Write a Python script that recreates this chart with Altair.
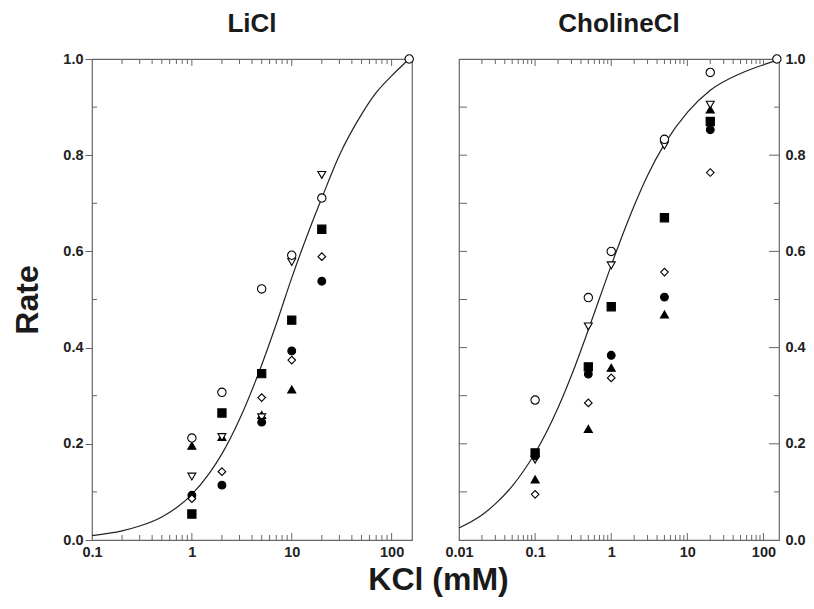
import altair as alt
import pandas as pd

FONT = "Liberation Sans"

# ---------------- data ----------------
series = ["open circle", "filled square", "filled triangle",
          "open triangle", "filled circle", "open diamond"]

licl_x = [1, 2, 5, 10, 20]
licl_open_circle = [0.212, 0.307, 0.522, 0.592, 0.711]
licl_filled_square = [0.054, 0.264, 0.346, 0.457, 0.646]
licl_filled_triangle = [0.196, 0.214, 0.260, 0.313, None]
licl_open_triangle = [0.132, 0.214, 0.255, 0.578, 0.759]
licl_filled_circle = [0.093, 0.114, 0.245, 0.393, 0.538]
licl_open_diamond = [0.086, 0.142, 0.296, 0.374, 0.589]

chol_x = [0.1, 0.5, 1, 5, 20]
chol_open_circle = [0.291, 0.504, 0.600, 0.833, 0.972]
chol_filled_square = [0.181, 0.360, 0.485, 0.670, 0.870]
chol_filled_triangle = [0.126, 0.231, 0.358, 0.469, 0.895]
chol_open_triangle = [0.167, 0.444, 0.571, 0.820, 0.905]
chol_filled_circle = [0.175, 0.345, 0.384, 0.505, 0.853]
chol_open_diamond = [0.095, 0.285, 0.337, 0.557, 0.764]

ref_x = [150]
ref_y = [1.0]

licl_curve_x = [0.1, 0.2, 0.3, 0.5, 0.7, 1, 1.5, 2, 3, 5, 7, 10, 15, 20, 30, 50, 70, 100, 150]
licl_curve_y = [0.009, 0.019, 0.029, 0.048, 0.067, 0.095, 0.139, 0.179, 0.251, 0.364,
                0.449, 0.545, 0.645, 0.711, 0.800, 0.885, 0.930, 0.965, 1.0]

chol_curve_x = [0.01, 0.02, 0.03, 0.05, 0.07, 0.1, 0.2, 0.3, 0.5, 0.7, 1, 2, 3, 5, 10, 20, 50, 100, 150]
chol_curve_y = [0.025, 0.052, 0.075, 0.112, 0.143, 0.181, 0.275, 0.342, 0.437, 0.502,
                0.571, 0.695, 0.758, 0.823, 0.889, 0.935, 0.970, 0.988, 0.997]

y_major = [0.0, 0.2, 0.4, 0.6, 0.8, 1.0]
y_minor = [0.1, 0.3, 0.5, 0.7, 0.9]
y_inner = [0.1, 0.2, 0.3, 0.4, 0.5, 0.6, 0.7, 0.8, 0.9]
y_inner_major = [0.2, 0.4, 0.6, 0.8]

licl_x_major = [1, 10, 100]
licl_x_minor = [0.2, 0.3, 0.4, 0.5, 0.6, 0.7, 0.8, 0.9,
                2, 3, 4, 5, 6, 7, 8, 9, 20, 30, 40, 50, 60, 70, 80, 90]
licl_x_labels = [0.1, 1, 10, 100]
chol_x_major = [0.1, 1, 10, 100]
chol_x_minor = [0.02, 0.03, 0.04, 0.05, 0.06, 0.07, 0.08, 0.09,
                0.2, 0.3, 0.4, 0.5, 0.6, 0.7, 0.8, 0.9,
                2, 3, 4, 5, 6, 7, 8, 9, 20, 30, 40, 50, 60, 70, 80, 90]
chol_x_labels = [0.01, 0.1, 1, 10, 100]

shapes = ["circle", "square", "triangle-up", "triangle-down", "circle", "diamond"]
fills = ["white", "black", "black", "white", "black", "white"]
sizes = [70, 58, 85, 85, 70, 125]

W, H = 320, 481


def points_frame(xs, cols):
    rows = []
    for name, vals in zip(series, cols):
        for x, v in zip(xs, vals):
            if v is not None:
                rows.append({"KCl": x, "Rate": v, "series": name})
    return rows


def panel(title, xs, cols, cx, cy, xdom, x_major, x_minor, x_labels, side):
    rows = points_frame(xs, cols)
    for x, v in zip(ref_x, ref_y):
        rows.append({"KCl": x, "Rate": v, "series": "open circle"})
    pts = pd.DataFrame(rows)
    curve = pd.DataFrame({"KCl": cx, "Rate": cy})

    xscale = alt.Scale(type="log", domain=xdom, nice=False)
    yscale = alt.Scale(domain=[0, 1], nice=False, zero=False)
    xaxis = alt.Axis(values=x_labels, format="~g", ticks=False, domain=False, grid=False,
                     labelPadding=5, title=None, labelFlush=False)
    if side == "left":
        yaxis = alt.Axis(values=y_major, format=".1f", orient="left", tickSize=7,
                         tickColor="#666", tickWidth=1, domain=False, grid=False,
                         labelPadding=2, title="Rate", titleFontSize=32,
                         titleFontWeight="bold", titlePadding=18, titleColor="#1a1a1a")
    else:
        yaxis = alt.Axis(values=y_major, format=".1f", orient="right", ticks=False,
                         domain=False, grid=False, labelPadding=6, title=None)

    X = alt.X("KCl:Q", scale=xscale, axis=xaxis)
    Y = alt.Y("Rate:Q", scale=yscale, axis=yaxis)

    line = alt.Chart(curve).mark_line(color="#222", strokeWidth=1.2,
                                      interpolate="monotone").encode(x=X, y=Y)

    dots = alt.Chart(pts).mark_point(filled=True, stroke="black", strokeWidth=1.1,
                                     opacity=1, clip=False).encode(
        x=X, y=Y,
        shape=alt.Shape("series:N", scale=alt.Scale(domain=series, range=shapes), legend=None),
        fill=alt.Fill("series:N", scale=alt.Scale(domain=series, range=fills), legend=None),
        size=alt.Size("series:N", scale=alt.Scale(domain=series, range=sizes), legend=None),
        order=alt.Order("order:Q"),
    ).transform_calculate(order="datum.series == 'open circle' ? 1 : 0")

    tick_color = "#666"
    xmaj = pd.DataFrame({"KCl": x_major})
    xmin = pd.DataFrame({"KCl": x_minor})
    layers = [line, dots]
    for df, ln in ((xmaj, 7), (xmin, 5)):
        layers.append(alt.Chart(df).mark_rule(color=tick_color, strokeWidth=1).encode(
            x=X, y=alt.value(H), y2=alt.value(H - ln)))
        layers.append(alt.Chart(df).mark_rule(color=tick_color, strokeWidth=1).encode(
            x=X, y=alt.value(0), y2=alt.value(ln)))

    if side == "left":
        ymin = pd.DataFrame({"Rate": y_minor})
        layers.append(alt.Chart(ymin).mark_rule(color=tick_color, strokeWidth=1).encode(
            y=Y, x=alt.value(0), x2=alt.value(5)))
    else:
        yin = pd.DataFrame({"Rate": y_inner})
        yinmaj = pd.DataFrame({"Rate": y_inner_major})
        ymin = pd.DataFrame({"Rate": y_minor})
        layers.append(alt.Chart(yin).mark_rule(color=tick_color, strokeWidth=1).encode(
            y=Y, x=alt.value(0), x2=alt.value(8)))
        layers.append(alt.Chart(yinmaj).mark_rule(color=tick_color, strokeWidth=1).encode(
            y=Y, x=alt.value(W), x2=alt.value(W - 10)))
        layers.append(alt.Chart(ymin).mark_rule(color=tick_color, strokeWidth=1).encode(
            y=Y, x=alt.value(W), x2=alt.value(W - 5)))

    return alt.layer(*layers).properties(
        width=W, height=H,
        title=alt.TitleParams(title, fontSize=26, fontWeight="bold", font=FONT,
                              color="#1a1a1a", offset=14, anchor="middle"),
    )


left = panel("LiCl", licl_x,
             [licl_open_circle, licl_filled_square, licl_filled_triangle,
              licl_open_triangle, licl_filled_circle, licl_open_diamond],
             licl_curve_x, licl_curve_y, [0.1, 160], licl_x_major, licl_x_minor,
             licl_x_labels, "left")
right = panel("CholineCl", chol_x,
              [chol_open_circle, chol_filled_square, chol_filled_triangle,
               chol_open_triangle, chol_filled_circle, chol_open_diamond],
              chol_curve_x, chol_curve_y, [0.01, 160], chol_x_major, chol_x_minor,
              chol_x_labels, "right")

chart = alt.hconcat(left, right, spacing=27).properties(
    title=alt.TitleParams("KCl (mM)", orient="bottom", anchor="middle", fontSize=32,
                          fontWeight="bold", font=FONT, color="#1a1a1a", dx=30, offset=6),
    padding={"left": 3, "top": 2, "right": 0, "bottom": 0},
).configure_view(stroke="#666", strokeWidth=1.2).configure_axis(
    labelFont=FONT, labelFontSize=14.5, labelFontWeight="bold", labelColor="#222",
    titleFont=FONT,
).resolve_scale(shape="independent", fill="independent", size="independent")

chart.save("out.html", embed_options={"renderer": "svg", "actions": False})
